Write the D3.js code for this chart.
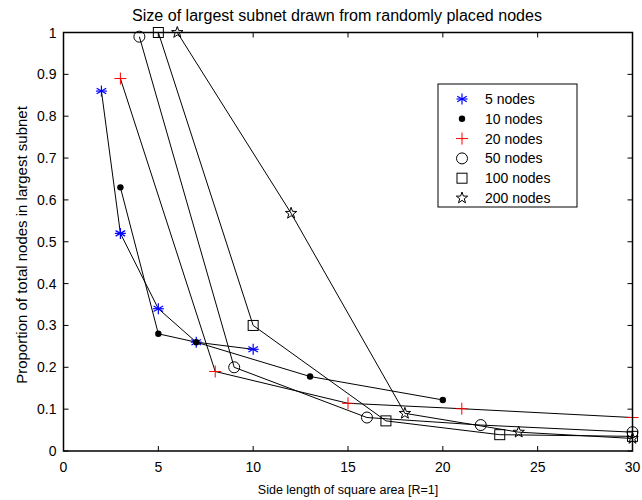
<!DOCTYPE html>
<html><head><meta charset="utf-8">
<script src="https://cdn.jsdelivr.net/npm/d3@7"></script>
<style>body{margin:0;background:#fff}svg{display:block}text{font-family:"Liberation Sans",Arial,sans-serif;fill:#000}</style>
</head><body><svg id="c" width="642" height="500"></svg>
<script>
const seriesNames = ["5 nodes","10 nodes","20 nodes","50 nodes","100 nodes","200 nodes"];
const x5 = [2,3,5,7,10],           y5 = [0.86,0.52,0.34,0.26,0.243];
const x10 = [3,5,7,13,20],         y10 = [0.63,0.28,0.26,0.178,0.122];
const x20 = [3,8,15,21,30],        y20 = [0.89,0.19,0.114,0.101,0.08];
const x50 = [4,9,16,22,30],        y50 = [0.99,0.2,0.08,0.062,0.045];
const x100 = [5,10,17,23,30],      y100 = [1.0,0.3,0.072,0.039,0.035];
const x200 = [6,12,18,24,30],      y200 = [1.0,0.568,0.09,0.045,0.03];
const xTicks = [0,5,10,15,20,25,30];
const yTicks = [0,0.1,0.2,0.3,0.4,0.5,0.6,0.7,0.8,0.9,1];

const series = [
  {name:seriesNames[0], xs:x5, ys:y5, marker:"star6", color:"#0000ff"},
  {name:seriesNames[1], xs:x10, ys:y10, marker:"dot", color:"#000"},
  {name:seriesNames[2], xs:x20, ys:y20, marker:"plus", color:"#ff0000"},
  {name:seriesNames[3], xs:x50, ys:y50, marker:"circle", color:"#000"},
  {name:seriesNames[4], xs:x100, ys:y100, marker:"square", color:"#000"},
  {name:seriesNames[5], xs:x200, ys:y200, marker:"pentagram", color:"#000"}
];

const L=63.5, R=632.5, T=32.5, B=451;
const x = d3.scaleLinear().domain([0,30]).range([L,R]);
const y = d3.scaleLinear().domain([0,1]).range([B,T]);
const svg = d3.select("#c");

const line = d3.line().x(d=>x(d[0])).y(d=>y(d[1]));
series.forEach(s=>{
  const pts = s.xs.map((v,i)=>[v,s.ys[i]]);
  svg.append("path").attr("d",line(pts)).attr("fill","none").attr("stroke","#000").attr("stroke-width",1);
});

function drawMarker(g, type, color, cx, cy, legend){
  if(type==="star6"){
    const r=5.5;
    [0,60,120].forEach(a=>{
      const rad=a*Math.PI/180;
      g.append("line").attr("x1",cx-r*Math.sin(rad)).attr("y1",cy-r*Math.cos(rad))
       .attr("x2",cx+r*Math.sin(rad)).attr("y2",cy+r*Math.cos(rad))
       .attr("stroke",color).attr("stroke-width",1.2);
    });
    g.append("line").attr("x1",cx-5.5).attr("x2",cx+5.5).attr("y1",cy).attr("y2",cy).attr("stroke",color).attr("stroke-width",1.2);
  } else if(type==="dot"){
    g.append("circle").attr("cx",cx).attr("cy",cy).attr("r",3.2).attr("fill",color);
  } else if(type==="plus"){
    g.append("line").attr("x1",cx-6).attr("x2",cx+6).attr("y1",cy).attr("y2",cy).attr("stroke",color).attr("stroke-width",1);
    g.append("line").attr("x1",cx).attr("x2",cx).attr("y1",cy-6).attr("y2",cy+6).attr("stroke",color).attr("stroke-width",1);
  } else if(type==="circle"){
    g.append("circle").attr("cx",cx).attr("cy",cy).attr("r",5.5).attr("fill","none").attr("stroke",color).attr("stroke-width",1);
  } else if(type==="square"){
    g.append("rect").attr("x",cx-5).attr("y",cy-5).attr("width",10).attr("height",10).attr("fill","none").attr("stroke",color).attr("stroke-width",1);
  } else if(type==="pentagram"){
    const ro=6, ri=2.4, p=[];
    for(let i=0;i<10;i++){const r=i%2?ri:ro;const a=-Math.PI/2+i*Math.PI/5;p.push([cx+r*Math.cos(a),cy+r*Math.sin(a)]);}
    g.append("polygon").attr("points",p.map(q=>q.join(",")).join(" ")).attr("fill","none").attr("stroke",color).attr("stroke-width",1);
  }
}

series.forEach(s=>{
  const g=svg.append("g");
  s.xs.forEach((v,i)=>drawMarker(g,s.marker,s.color,x(v),y(s.ys[i]),false));
});

const frame = svg.append("g");
frame.append("rect").attr("x",L).attr("y",T).attr("width",R-L).attr("height",B-T).attr("fill","none").attr("stroke","#000").attr("stroke-width",1.5);
const tl=5;
xTicks.forEach(t=>{
  const px=x(t);
  frame.append("line").attr("x1",px).attr("x2",px).attr("y1",B).attr("y2",B-tl).attr("stroke","#000");
  frame.append("line").attr("x1",px).attr("x2",px).attr("y1",T).attr("y2",T+tl).attr("stroke","#000");
  frame.append("text").attr("x",px).attr("y",B+21).attr("text-anchor","middle").attr("font-size",14).text(d3.format("d")(t));
});
yTicks.forEach(t=>{
  const py=y(t);
  frame.append("line").attr("x1",L).attr("x2",L+tl).attr("y1",py).attr("y2",py).attr("stroke","#000");
  frame.append("line").attr("x1",R).attr("x2",R-tl).attr("y1",py).attr("y2",py).attr("stroke","#000");
  frame.append("text").attr("x",L-7).attr("y",py+5).attr("text-anchor","end").attr("font-size",14).text(t===0||t===1?String(t):d3.format(".1f")(t));
});

svg.append("text").attr("x",337).attr("y",21).attr("text-anchor","middle").attr("font-size",16).attr("textLength",410).attr("lengthAdjust","spacingAndGlyphs").text("Size of largest subnet drawn from randomly placed nodes");
svg.append("text").attr("x",348).attr("y",494).attr("text-anchor","middle").attr("font-size",12.5).text("Side length of square area [R=1]");
svg.append("text").attr("transform",`translate(27,245) rotate(-90)`).attr("text-anchor","middle").attr("font-size",15).text("Proportion of total nodes in largest subnet");

const lg = svg.append("g");
lg.append("rect").attr("x",438).attr("y",84).attr("width",139).attr("height",123).attr("fill","#fff").attr("stroke","#000").attr("stroke-width",1);
series.forEach((s,i)=>{
  const cy=99+i*19.8;
  drawMarker(lg,s.marker,s.color,462,cy,true);
  lg.append("text").attr("x",485).attr("y",cy+5).attr("font-size",14).text(s.name);
});
</script></body></html>
